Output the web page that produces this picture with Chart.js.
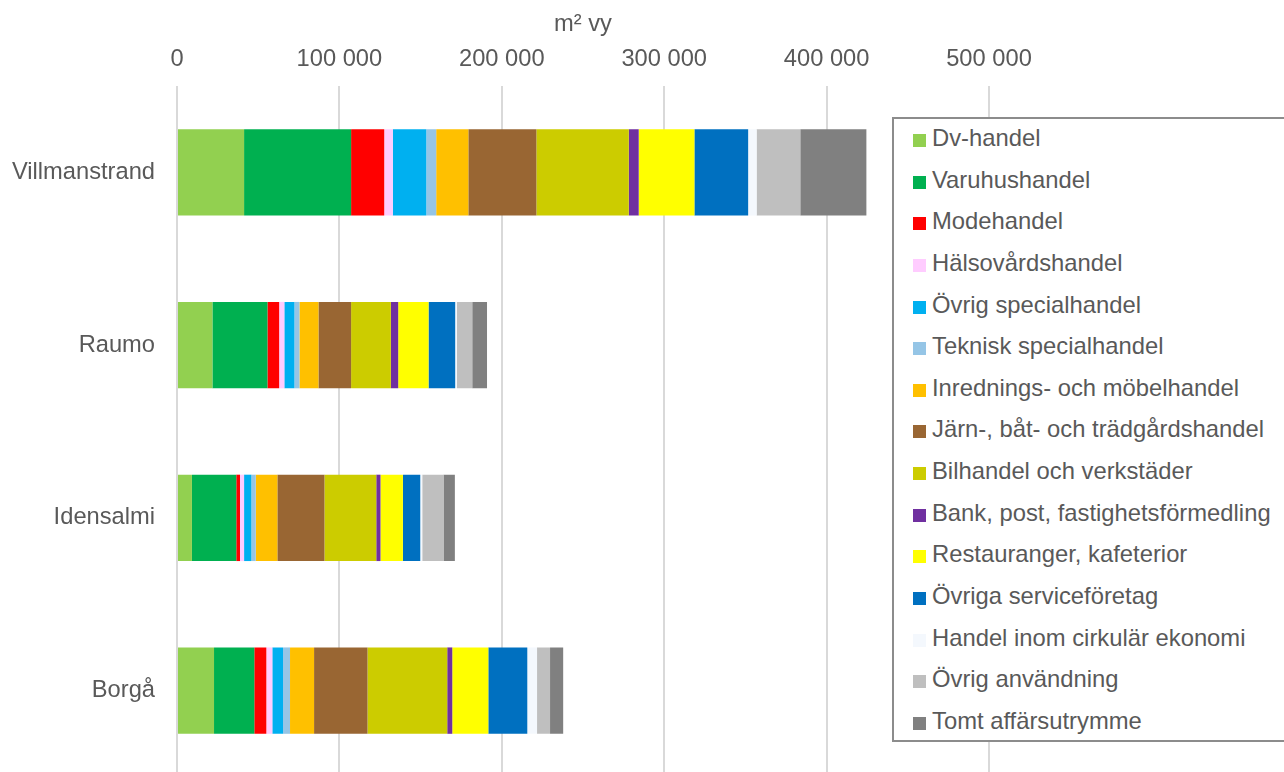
<!DOCTYPE html>
<html>
<head>
<meta charset="utf-8">
<script src="https://cdn.jsdelivr.net/npm/chart.js@4/dist/chart.umd.min.js"></script>
<style>
  html, body { margin: 0; padding: 0; background: #fff; overflow: hidden; }
  #wrap { position: relative; width: 1284px; height: 780px; }
  #chart { display: block; }
  #legend {
    position: absolute; left: 892px; top: 117px; width: 400px; height: 625px;
    border: 2px solid #8c8c8c; background: #fff; box-sizing: border-box;
    font-family: "Liberation Sans", Arial, sans-serif; font-size: 23.8px; color: #595959;
  }
  #legend .item { position: relative; top: -2px; height: 41.65px; line-height: 41.65px; white-space: nowrap; }
  #legend .sw { display: inline-block; width: 13px; height: 13px; margin: 0 6px 0 19px; vertical-align: -1px; }
</style>
</head>
<body>
<div id="wrap">
  <canvas id="chart" width="1284" height="780"></canvas>
  <div id="legend"></div>
</div>
<script>
// cities (categories)
var cities = ['Villmanstrand', 'Raumo', 'Idensalmi', 'Borgå'];

// series names and colours
var seriesNames = [
  'Dv-handel', 'Varuhushandel', 'Modehandel', 'Hälsovårdshandel', 'Övrig specialhandel',
  'Teknisk specialhandel', 'Inrednings- och möbelhandel', 'Järn-, båt- och trädgårdshandel',
  'Bilhandel och verkstäder', 'Bank, post, fastighetsförmedling', 'Restauranger, kafeterior',
  'Övriga serviceföretag', 'Handel inom cirkulär ekonomi', 'Övrig användning', 'Tomt affärsutrymme'
];
var seriesColors = [
  '#92d050', '#00b050', '#ff0000', '#ffccff', '#00b0f0',
  '#95c5e6', '#ffc000', '#996633', '#cccc00', '#7030a0',
  '#ffff00', '#0070c0', '#f4f8fd', '#bfbfbf', '#808080'
];

// values, m² vy (Villmanstrand, Raumo, Idensalmi, Borgå)
var dvHandel      = [41300, 21800, 9200, 22800];
var varuhus       = [65900, 33900, 27300, 24800];
var mode          = [20400, 7200, 2300, 7400];
var halsovard     = [5300, 3200, 2500, 3700];
var ovrigSpecial  = [20600, 6200, 4500, 6600];
var teknisk       = [6100, 3100, 2700, 4300];
var inredning     = [19800, 11700, 13300, 14800];
var jarnBat       = [41900, 20100, 29000, 32900];
var bilhandel     = [56900, 24500, 31900, 49100];
var bankPost      = [6100, 4500, 2600, 3100];
var restauranger  = [34300, 18700, 13800, 22200];
var ovrigService  = [33100, 16400, 10700, 24000];
var cirkular      = [5200, 1100, 1200, 6000];
var ovrigAnv      = [26900, 9400, 13100, 8000];
var tomt          = [40700, 9100, 7000, 8100];

// x axis ticks
var xTicks = [0, 100000, 200000, 300000, 400000, 500000];

var seriesValues = [dvHandel, varuhus, mode, halsovard, ovrigSpecial, teknisk, inredning,
  jarnBat, bilhandel, bankPost, restauranger, ovrigService, cirkular, ovrigAnv, tomt];

var textColor = '#595959';
var fontFamily = '"Liberation Sans", Arial, sans-serif';

var datasets = seriesNames.map(function (name, i) {
  return {
    label: name,
    data: seriesValues[i],
    backgroundColor: seriesColors[i],
    borderWidth: 0
  };
});

function fmt(v) {
  return String(v).replace(/\B(?=(\d{3})+(?!\d))/g, ' ');
}

new Chart(document.getElementById('chart'), {
  type: 'bar',
  data: { labels: cities, datasets: datasets },
  options: {
    indexAxis: 'y',
    responsive: false,
    animation: false,
    layout: { padding: { left: 0, right: 295, top: 0, bottom: 3 } },
    plugins: { legend: { display: false }, tooltip: { enabled: false } },
    datasets: { bar: { barPercentage: 0.5, categoryPercentage: 1.0 } },
    scales: {
      x: {
        position: 'top',
        stacked: true,
        min: 0,
        max: 500000,
        afterBuildTicks: function (scale) {
          scale.ticks = xTicks.map(function (v) { return { value: v }; });
        },
        afterFit: function (scale) { scale.height = 86; },
        grid: { color: '#d9d9d9', lineWidth: 2, drawTicks: false },
        border: { display: false },
        ticks: {
          padding: 12,
          color: textColor,
          font: { family: fontFamily, size: 23.7 },
          callback: function (v) { return fmt(v); }
        },
        title: {
          display: true,
          text: 'm² vy',
          color: textColor,
          font: { family: fontFamily, size: 23.7 },
          padding: { top: 10, bottom: 0 }
        }
      },
      y: {
        stacked: true,
        afterFit: function (scale) {
          scale.width = 177;
          scale.paddingTop = 0;     // keep the plot running to the bottom edge
          scale.paddingBottom = 0;
        },
        grid: { display: false },
        border: { display: false },
        ticks: {
          padding: 14,
          color: textColor,
          font: { family: fontFamily, size: 23.7 }
        }
      }
    }
  }
});

// legend box, drawn over the plot as in the original
var legend = document.getElementById('legend');
seriesNames.forEach(function (name, i) {
  var row = document.createElement('div');
  row.className = 'item';
  var sw = document.createElement('span');
  sw.className = 'sw';
  sw.style.background = seriesColors[i];
  row.appendChild(sw);
  row.appendChild(document.createTextNode(name));
  legend.appendChild(row);
});
</script>
</body>
</html>
